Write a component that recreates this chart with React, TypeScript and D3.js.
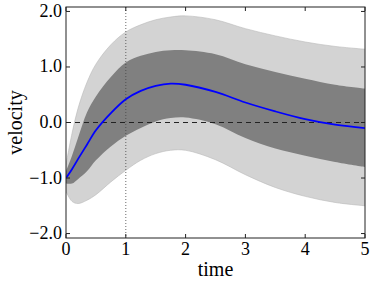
import React from "react";
import * as d3 from "d3";

// sample times (x) and curves
const times = [0, 0.1, 0.2, 0.35, 0.5, 0.75, 1, 1.25, 1.5, 1.75, 2, 2.5, 3, 3.5, 4, 4.5, 5];
const meanVelocity = [-1.0, -0.84, -0.66, -0.4, -0.14, 0.17, 0.42, 0.57, 0.66, 0.7, 0.68, 0.55, 0.36, 0.2, 0.06, -0.04, -0.1];
const outerUpper = [-0.76, -0.2, 0.25, 0.72, 1.05, 1.4, 1.63, 1.76, 1.85, 1.9, 1.92, 1.85, 1.69, 1.56, 1.45, 1.37, 1.32];
const innerUpper = [-0.88, -0.6, -0.28, 0.18, 0.47, 0.82, 1.08, 1.2, 1.27, 1.3, 1.3, 1.23, 1.05, 0.91, 0.79, 0.68, 0.61];
const innerLower = [-1.1, -1.1, -1.02, -0.88, -0.68, -0.43, -0.24, -0.1, 0.02, 0.08, 0.09, -0.03, -0.28, -0.47, -0.6, -0.71, -0.8];
const outerLower = [-1.24, -1.42, -1.46, -1.4, -1.3, -1.07, -0.86, -0.68, -0.56, -0.5, -0.5, -0.67, -0.94, -1.17, -1.33, -1.44, -1.5];

const xTicks = [0, 1, 2, 3, 4, 5];
const yTicks = [-2, -1, 0, 1, 2];
const markerTime = 1;

const W = 374;
const H = 283;
const left = 66, right = 365, top = 7, bottom = 238;

export default function App() {
  const x = d3.scaleLinear().domain([0, 5]).range([left, right]);
  const y = d3.scaleLinear().domain([-2.08, 2.08]).range([bottom, top]);
  const curve = d3.curveCatmullRom.alpha(0.5);

  const band = (lo: number[], hi: number[]) =>
    d3.area<number>()
      .x((_, i) => x(times[i]))
      .y0((_, i) => y(lo[i]))
      .y1((_, i) => y(hi[i]))
      .curve(curve)(times) || "";

  const edge = (vals: number[]) =>
    d3.line<number>()
      .x((_, i) => x(times[i]))
      .y((_, i) => y(vals[i]))
      .curve(curve)(times) || "";

  const meanPath = edge(meanVelocity);
  const fmt = (v: number) => d3.format(".1f")(v).replace("-", "\u2212");
  const font = "'Liberation Serif', serif";

  return (
    <svg width={W} height={H} style={{ position: "absolute", left: 0, top: 0 }}>
      <defs>
        <clipPath id="plot">
          <rect x={left} y={top} width={right - left} height={bottom - top} />
        </clipPath>
      </defs>
      <g clipPath="url(#plot)">
        <path d={band(outerLower, outerUpper)} fill="#d3d3d3" />
        <path d={edge(outerUpper)} fill="none" stroke="#b8b8b8" strokeWidth={0.6} />
        <path d={edge(outerLower)} fill="none" stroke="#b8b8b8" strokeWidth={0.6} />
        <path d={band(innerLower, innerUpper)} fill="#808080" />
        <line x1={x(markerTime)} x2={x(markerTime)} y1={top} y2={bottom}
          stroke="#444" strokeWidth={0.8} strokeDasharray="1,2" />
        <line x1={left} x2={right} y1={y(0)} y2={y(0)}
          stroke="#222" strokeWidth={1} strokeDasharray="5,4" />
        <path d={meanPath} fill="none" stroke="#0000ff" strokeWidth={1.8} />
      </g>

      {/* frame */}
      <rect x={left} y={top} width={right - left} height={bottom - top}
        fill="none" stroke="#222" strokeWidth={1} />

      {xTicks.map(t => (
        <g key={"x" + t}>
          <line x1={x(t)} x2={x(t)} y1={bottom} y2={bottom - 4} stroke="#222" />
          <line x1={x(t)} x2={x(t)} y1={top} y2={top + 4} stroke="#222" />
          <text x={x(t)} y={255} textAnchor="middle" fontFamily={font} fontSize={18}>{t}</text>
        </g>
      ))}
      {yTicks.map(v => (
        <g key={"y" + v}>
          <line x1={left} x2={left + 4} y1={y(v)} y2={y(v)} stroke="#222" />
          <line x1={right} x2={right - 4} y1={y(v)} y2={y(v)} stroke="#222" />
          <text x={62} y={y(v) + 5.5} textAnchor="end" fontFamily={font} fontSize={18}>{fmt(v)}</text>
        </g>
      ))}

      <text x={(left + right) / 2} y={276} textAnchor="middle" fontFamily={font} fontSize={20}>time</text>
      <text transform={`translate(22,${(top + bottom) / 2}) rotate(-90)`} textAnchor="middle"
        fontFamily={font} fontSize={20}>velocity</text>
    </svg>
  );
}
